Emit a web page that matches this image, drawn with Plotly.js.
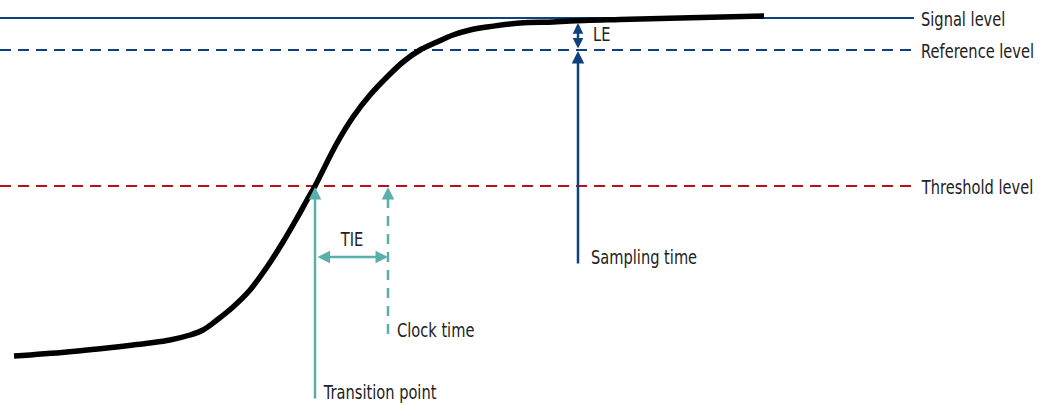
<!DOCTYPE html>
<html><head><meta charset="utf-8">
<script src="https://cdn.plot.ly/plotly-3.0.1.min.js"></script>
<style>html,body{margin:0;padding:0;background:#fff}#chart{width:1047px;height:403px}</style>
</head><body><div id="chart"></div>
<script>
// Signal curve (diagram coordinates: x to the right, y downward)
const curveX = [14, 67, 133, 150, 170, 190, 203, 217, 233, 250, 267, 283, 297, 307, 315, 337, 353, 370, 387, 403, 420, 437, 453, 470, 487, 520, 553, 570, 620, 680, 764];
const curveY = [356, 352, 345, 343, 340, 335, 330, 320, 307, 290, 267, 242, 218, 200, 186, 143, 117, 95, 77, 62, 50, 42, 35, 30, 27, 23, 22, 21, 19.5, 18, 16];

// Horizontal levels
const levelNames = ["Signal level", "Reference level", "Threshold level"];
const levelY = [18, 50, 186];

// Event positions
const transitionX = 315;
const clockX = 388;
const samplingX = 578;
const transitionBottom = 400;
const clockBottom = 340;
const samplingBottom = 265;
const tieY = 257;

const BLUE = '#0f427c', RED = '#b5121b', TEAL = '#5aafab', TXT = '#222222';
const FONT = '"DejaVu Sans",sans-serif';
const SQUEEZE = 0.77;

const levelStyles = [
  {color: BLUE, dash: 'solid'},
  {color: BLUE, dash: '11px,7px'},
  {color: RED, dash: '11px,7px'}
];

const traces = [];
levelY.forEach((y, i) => {
  traces.push({x: [0, 914], y: [y, y], mode: 'lines', hoverinfo: 'skip',
    line: {color: levelStyles[i].color, width: 2, dash: levelStyles[i].dash}});
});
// clock dashed line
traces.push({x: [clockX, clockX], y: [198, clockBottom], mode: 'lines', hoverinfo: 'skip',
  line: {color: TEAL, width: 2.5, dash: '10px,8px'}});
// curve
traces.push({x: curveX, y: curveY, mode: 'lines', hoverinfo: 'skip',
  line: {color: '#000', width: 5.5, shape: 'spline', smoothing: 1}});

const annotations = [];
function arrow(x, y, ax, ay, color, side, size) {
  size = size || 1.0;
  annotations.push({x: x, y: y, ax: ax, ay: ay, xref: 'x', yref: 'y', axref: 'x', ayref: 'y',
    text: '', showarrow: true, arrowhead: 2, startarrowhead: 2, arrowsize: size, startarrowsize: size,
    arrowwidth: 2.5, arrowcolor: color, arrowside: side || 'end', standoff: 0, startstandoff: 0});
}
arrow(transitionX, levelY[2] + 1, transitionX, transitionBottom, TEAL);
arrow(clockX, levelY[2] + 1, clockX, 202, TEAL);
arrow(clockX, tieY, transitionX + 1, tieY, TEAL, 'end+start');
arrow(samplingX, levelY[1] + 1, samplingX, samplingBottom, BLUE);
arrow(samplingX, levelY[0] + 5, samplingX, levelY[1], BLUE, 'end+start', 0.85);

function label(text, x, y) {
  annotations.push({x: x, y: y, xref: 'x', yref: 'y', text: text, showarrow: false,
    xanchor: 'left', yanchor: 'middle', font: {family: FONT, size: 19, color: TXT}});
}
levelNames.forEach((n, i) => label(n, 919, levelY[i] + 1));
label('LE', 591, 34);
label('TIE', 338, 239);
label('Sampling time', 589, 257);
label('Clock time', 395, 330);
label('Transition point', 321, 392);

const layout = {
  width: 1047, height: 403, margin: {l: 0, r: 0, t: 0, b: 0},
  paper_bgcolor: '#fff', plot_bgcolor: '#fff', showlegend: false,
  xaxis: {range: [0, 1047], visible: false, fixedrange: true},
  yaxis: {range: [403, 0], visible: false, fixedrange: true},
  annotations: annotations
};
Plotly.newPlot('chart', traces, layout, {staticPlot: true}).then(() => {
  // emulate a condensed face: squeeze each label horizontally about its left edge
  document.querySelectorAll('#chart .annotation-text').forEach(t => {
    const b = t.getBBox();
    if (!b.width) return;
    t.setAttribute('transform', `translate(${b.x},0) scale(${SQUEEZE},1) translate(${-b.x},0)`);
  });
});
</script></body></html>
